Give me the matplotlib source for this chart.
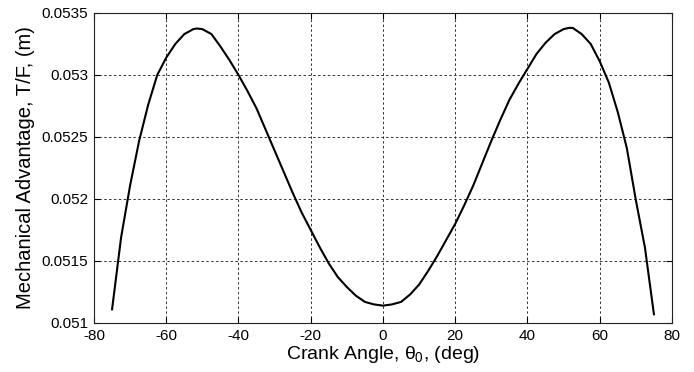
import matplotlib
matplotlib.use("Agg")
import matplotlib.pyplot as plt

plt.rcParams['font.family'] = ['Liberation Sans', 'DejaVu Sans']
plt.rcParams['mathtext.fontset'] = 'custom'
plt.rcParams['mathtext.rm'] = 'Liberation Sans'
plt.rcParams['mathtext.it'] = 'Liberation Sans'

crank_angle = [-75, -72.5, -70, -67.5, -65, -62.5, -60, -57.5, -55, -52.5, -51.5, -50,
               -47.5, -45, -42.5, -40, -37.5, -35, -32.5, -30, -27.5, -25, -22.5, -20,
               -17.5, -15, -12.5, -10, -7.5, -5, -2.5, 0,
               2.5, 5, 7.5, 10, 12.5, 15, 17.5, 20, 22.5, 25, 27.5, 30, 32.5, 35, 37.5,
               40, 42.5, 45, 47.5, 50, 51.5, 52.5, 55, 57.5, 60, 62.5, 65, 67.5, 70,
               72.5, 75]
mech_adv = [0.05111, 0.05169, 0.05211, 0.05247, 0.05276, 0.05300, 0.05314, 0.05325,
            0.05333, 0.05337, 0.053375, 0.05337, 0.05333, 0.05323, 0.05312, 0.05300,
            0.05287, 0.05273, 0.05256, 0.05239, 0.05222, 0.05205, 0.05189, 0.05175,
            0.05161, 0.05148, 0.05137, 0.05129, 0.05122, 0.05117, 0.05115, 0.05114,
            0.05115, 0.05117, 0.05123, 0.05131, 0.05142, 0.05154, 0.05167, 0.05180,
            0.05195, 0.05211, 0.05229, 0.05247, 0.05264, 0.05280, 0.05293, 0.05305,
            0.05317, 0.05326, 0.05333, 0.05337, 0.05338, 0.05338, 0.05333, 0.05325,
            0.05311, 0.05294, 0.05270, 0.05241, 0.05199, 0.05161, 0.05107]

x_ticks = [-80, -60, -40, -20, 0, 20, 40, 60, 80]
y_ticks = [0.051, 0.0515, 0.052, 0.0525, 0.053, 0.0535]
y_tick_labels = ['0.051', '0.0515', '0.052', '0.0525', '0.053', '0.0535']

fig = plt.figure(figsize=(6.94, 3.72), dpi=100)
ax = fig.add_axes([94/694, 1-323/372, (672-94)/694, (323-13)/372])
ax.plot(crank_angle, mech_adv, color='black', linewidth=1.5)
ax.set_xlim(-80, 80)
ax.set_ylim(0.051, 0.0535)
ax.set_xticks(x_ticks)
ax.set_xticklabels([str(t) for t in x_ticks])
ax.set_yticks(y_ticks)
ax.set_yticklabels(y_tick_labels)
ax.tick_params(direction='in', length=4, labelsize=11, top=True, right=True, pad=4)
ax.grid(True, color='#333333', linestyle=(0, (2.5, 2.5)), linewidth=0.7)
for s in ax.spines.values():
    s.set_linewidth(0.8)
    s.set_color('#222222')
ax.set_xlabel(r'Crank Angle, $\theta_0$, (deg)', fontsize=14, labelpad=1)
ax.set_ylabel('Mechanical Advantage, T/F, (m)', fontsize=14.5, labelpad=5)
fig.savefig('out.png', dpi=100)
